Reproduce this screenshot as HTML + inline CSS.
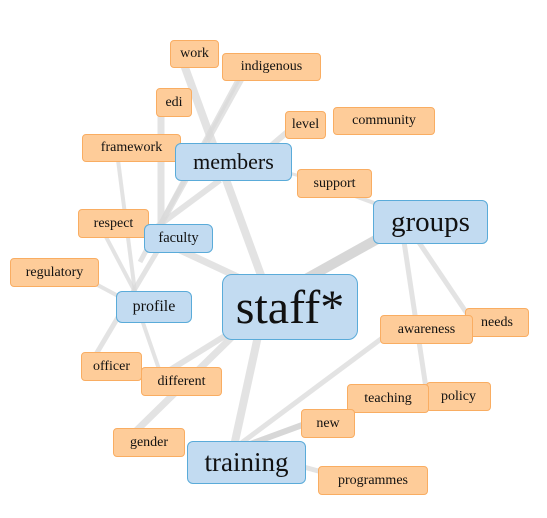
<!DOCTYPE html>
<html><head><meta charset="utf-8"><style>
body{margin:0;width:547px;height:518px;background:#fff;position:relative;overflow:hidden;font-family:"Liberation Serif",serif;}
svg{position:absolute;left:0;top:0}
.n{position:absolute;box-sizing:border-box;border-radius:4px;display:flex;align-items:center;justify-content:center;color:#111;white-space:nowrap}
.o{background:#fecc99;border:1.5px solid #f9ad62;font-size:14px}
.b{background:#c2dbf1;border:1.5px solid #5aabd9;border-radius:6px}
</style></head><body>
<svg width="547" height="518">
<g stroke="#d9d9d9" stroke-opacity="0.75" stroke-linecap="butt" fill="none">
<line x1="183" y1="62" x2="262" y2="278" stroke-width="8"/>
<line x1="242" y1="78" x2="160" y2="226" stroke-width="6"/>
<line x1="238" y1="80" x2="140" y2="262" stroke-width="5"/>
<line x1="161" y1="112" x2="161" y2="226" stroke-width="7"/>
<line x1="118" y1="160" x2="135" y2="292" stroke-width="4"/>
<line x1="105" y1="235" x2="135" y2="292" stroke-width="4"/>
<line x1="158" y1="250" x2="95" y2="356" stroke-width="5"/>
<line x1="92" y1="282" x2="120" y2="297" stroke-width="4"/>
<line x1="142" y1="320" x2="160" y2="372" stroke-width="4"/>
<line x1="220" y1="180" x2="158" y2="226" stroke-width="6"/>
<line x1="180" y1="250" x2="240" y2="278" stroke-width="7"/>
<line x1="272" y1="145" x2="292" y2="128" stroke-width="6"/>
<line x1="285" y1="172" x2="300" y2="176" stroke-width="3"/>
<line x1="355" y1="196" x2="382" y2="206" stroke-width="4"/>
<line x1="390" y1="232" x2="295" y2="285" stroke-width="10" stroke="#cacaca"/>
<line x1="414" y1="235" x2="468" y2="315" stroke-width="5"/>
<line x1="403" y1="235" x2="426" y2="388" stroke-width="5"/>
<line x1="258" y1="336" x2="234" y2="446" stroke-width="8"/>
<line x1="228" y1="334" x2="170" y2="370" stroke-width="6"/>
<line x1="233" y1="336" x2="135" y2="432" stroke-width="7"/>
<line x1="240" y1="444" x2="385" y2="336" stroke-width="5"/>
<line x1="245" y1="446" x2="305" y2="424" stroke-width="6" stroke="#cacaca"/>
<line x1="340" y1="416" x2="352" y2="408" stroke-width="4"/>
<line x1="300" y1="466" x2="322" y2="472" stroke-width="5"/>
</g></svg>
<div class="n o" style="left:170px;top:40px;width:49px;height:28px">work</div>
<div class="n o" style="left:222px;top:53px;width:99px;height:28px">indigenous</div>
<div class="n o" style="left:156px;top:88px;width:36px;height:29px">edi</div>
<div class="n o" style="left:333px;top:107px;width:102px;height:28px">community</div>
<div class="n o" style="left:285px;top:111px;width:41px;height:28px">level</div>
<div class="n o" style="left:82px;top:134px;width:99px;height:28px">framework</div>
<div class="n b" style="left:175px;top:143px;width:117px;height:38px;font-size:22px">members</div>
<div class="n o" style="left:297px;top:169px;width:75px;height:29px">support</div>
<div class="n b" style="left:373px;top:200px;width:115px;height:44px;font-size:29px">groups</div>
<div class="n o" style="left:78px;top:209px;width:71px;height:29px">respect</div>
<div class="n b" style="left:144px;top:224px;width:69px;height:29px;font-size:14.5px">faculty</div>
<div class="n o" style="left:10px;top:258px;width:89px;height:29px">regulatory</div>
<div class="n b" style="left:116px;top:291px;width:76px;height:32px;font-size:16px">profile</div>
<div class="n b" style="left:222px;top:274px;width:136px;height:66px;font-size:48px;border-radius:10px">staff*</div>
<div class="n o" style="left:465px;top:308px;width:64px;height:29px">needs</div>
<div class="n o" style="left:380px;top:315px;width:93px;height:29px">awareness</div>
<div class="n o" style="left:81px;top:352px;width:61px;height:29px">officer</div>
<div class="n o" style="left:141px;top:367px;width:81px;height:29px">different</div>
<div class="n o" style="left:426px;top:382px;width:65px;height:29px">policy</div>
<div class="n o" style="left:347px;top:384px;width:82px;height:29px">teaching</div>
<div class="n o" style="left:301px;top:409px;width:54px;height:29px">new</div>
<div class="n o" style="left:113px;top:428px;width:72px;height:29px">gender</div>
<div class="n b" style="left:187px;top:441px;width:119px;height:43px;font-size:27px">training</div>
<div class="n o" style="left:318px;top:466px;width:110px;height:29px">programmes</div>
</body></html>
